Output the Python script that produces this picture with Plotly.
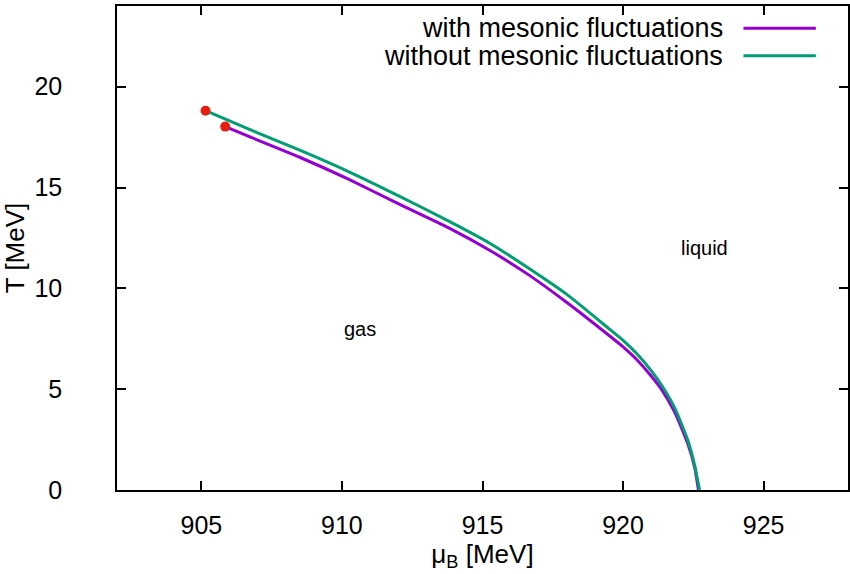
import plotly.graph_objects as go

# Phase boundary data (mu_B in MeV, T in MeV)
mu_with = [905.85, 906.71, 908.5, 910.25, 912.0, 913.8, 915.3, 916.63, 918.0,
           919.47, 920.0, 920.5, 921.0, 921.36, 921.84, 922.3, 922.55, 922.68]
T_with = [18.02, 17.52, 16.5, 15.4, 14.2, 13.0, 11.85, 10.68, 9.3,
          7.7, 7.1, 6.45, 5.65, 5.0, 3.85, 2.3, 1.1, 0.0]

mu_without = [905.15, 906.71, 908.5, 910.25, 912.0, 913.8, 915.3, 916.63, 918.0,
              919.47, 920.0, 920.5, 921.0, 921.36, 921.84, 922.3, 922.55, 922.72]
T_without = [18.81, 17.88, 16.85, 15.78, 14.6, 13.33, 12.2, 11.01, 9.7,
             8.03, 7.42, 6.74, 5.92, 5.22, 4.06, 2.48, 1.2, 0.0]

series_names = ["with mesonic fluctuations", "without mesonic fluctuations"]
region_labels = ["gas", "liquid"]
region_mu = [910.0, 922.0]
region_T = [8.0, 12.0]

x_ticks = [905, 910, 915, 920, 925]
y_ticks = [0, 5, 10, 15, 20]

PURPLE = "#9400d3"
GREEN = "#009e73"
RED = "#e51e10"
FONT = "Liberation Sans, Arial, sans-serif"

fig = go.Figure()
fig.add_trace(go.Scatter(x=mu_with, y=T_with, mode="lines",
                         line=dict(color=PURPLE, width=3, shape="spline", smoothing=0.5),
                         name=series_names[0], showlegend=False))
fig.add_trace(go.Scatter(x=mu_without, y=T_without, mode="lines",
                         line=dict(color=GREEN, width=3, shape="spline", smoothing=0.5),
                         name=series_names[1], showlegend=False))
# critical end points
fig.add_trace(go.Scatter(x=[mu_without[0], mu_with[0]], y=[T_without[0], T_with[0]],
                         mode="markers", marker=dict(color=RED, size=10),
                         showlegend=False))

for lab, xm, yt in zip(region_labels, region_mu, region_T):
    fig.add_annotation(x=xm, y=yt, text=lab, showarrow=False, xanchor="left",
                       yanchor="middle", font=dict(family=FONT, size=20, color="black"))

# gnuplot-style legend (text left of sample line)
leg_y = [0.954, 0.897]
for name, col, yy in zip(series_names, [PURPLE, GREEN], leg_y):
    fig.add_annotation(xref="paper", yref="paper", x=0.832, y=yy, text=name,
                       showarrow=False, xanchor="right", yanchor="middle",
                       font=dict(family=FONT, size=27, color="black"))
    fig.add_shape(type="line", xref="paper", yref="paper", x0=0.857, x1=0.956,
                  y0=yy, y1=yy, line=dict(color=col, width=3))

axis_common = dict(showline=True, linecolor="black", linewidth=1.5, mirror="allticks",
                   ticks="inside", ticklen=9, tickwidth=1.5, tickcolor="black",
                   showgrid=False, zeroline=False,
                   tickfont=dict(family=FONT, size=25, color="black"))

fig.update_layout(
    width=850, height=574,
    margin=dict(l=117, r=0, t=6, b=84),
    paper_bgcolor="white", plot_bgcolor="white",
    xaxis=dict(range=[902, 928], tickvals=x_ticks, ticklabelstandoff=12,
               title=dict(text="μ<sub>B</sub> [MeV]", standoff=4,
                          font=dict(family=FONT, size=26, color="black")),
               **axis_common),
    yaxis=dict(range=[0, 24], tickvals=y_ticks, ticklabelstandoff=48,
               title=dict(text="T [MeV]", standoff=7,
                          font=dict(family=FONT, size=26, color="black")),
               **axis_common),
)

fig.write_html("out.html")
